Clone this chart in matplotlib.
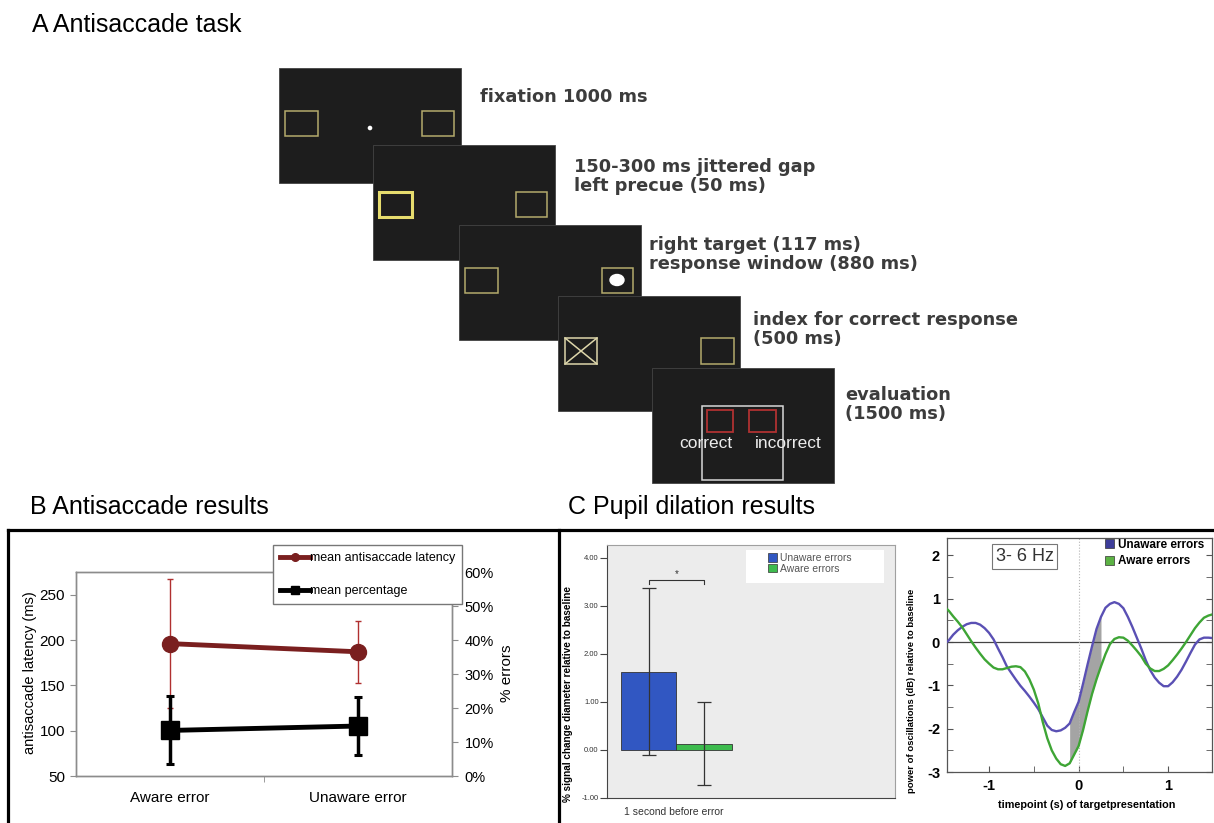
import numpy as np
import matplotlib
matplotlib.use("Agg")
import matplotlib.pyplot as plt
from matplotlib.patches import Rectangle, Ellipse, Circle, Patch
from matplotlib.lines import Line2D

plt.rcParams['font.family'] = ['Liberation Sans', 'DejaVu Sans']
plt.rcParams['axes.unicode_minus'] = False

W, H = 1214, 823

# ---- data ----
# panel A: task steps
step_labels = [
    ["fixation 1000 ms"],
    ["150-300 ms jittered gap", "left precue (50 ms)"],
    ["right target (117 ms)", "response window (880 ms)"],
    ["index for correct response", "(500 ms)"],
    ["evaluation", "(1500 ms)"],
]

# panel B: antisaccade results
conditions_b = ["Aware error", "Unaware error"]
latency_ms = [196, 187]
latency_err = [71, 34]
error_pct = [13.4, 14.7]
error_pct_err = [10.0, 8.5]

# panel C left: pupil dilation 1 s before error
pupil_groups = ["Unaware errors", "Aware errors"]
pupil_change = [1.63, 0.13]
pupil_ci = [1.74, 0.86]

# panel C right: 3-6 Hz power
time_s = np.round(np.linspace(-1.5, 1.5, 61), 2)
unaware_db = [-0.05, 0.04, 0.17, 0.27, 0.35, 0.41, 0.44, 0.44, 0.40, 0.32,
              0.21, 0.06, -0.15, -0.35, -0.57, -0.72, -0.87, -1.01, -1.13, -1.26,
              -1.40, -1.55, -1.74, -1.93, -2.03, -2.06, -2.04, -1.98, -1.88, -1.62,
              -1.38, -0.96, -0.52, -0.10, 0.30, 0.58, 0.79, 0.88, 0.92, 0.88,
              0.78, 0.58, 0.35, 0.10, -0.15, -0.42, -0.65, -0.82, -0.94, -1.02,
              -1.02, -0.93, -0.80, -0.64, -0.45, -0.25, -0.06, 0.06, 0.10, 0.10,
              0.09]
aware_db = [0.82, 0.72, 0.59, 0.47, 0.34, 0.18, 0.02, -0.13, -0.27, -0.40,
            -0.50, -0.59, -0.63, -0.63, -0.60, -0.57, -0.56, -0.58, -0.68, -0.86,
            -1.10, -1.42, -1.85, -2.22, -2.50, -2.69, -2.82, -2.86, -2.80, -2.60,
            -2.40, -2.03, -1.60, -1.20, -0.86, -0.56, -0.28, -0.05, 0.07, 0.11,
            0.10, 0.03, -0.08, -0.20, -0.33, -0.50, -0.61, -0.67, -0.67, -0.62,
            -0.54, -0.42, -0.29, -0.15, 0.00, 0.16, 0.32, 0.45, 0.56, 0.61,
            0.64]
unaware_db = np.array(unaware_db)
aware_db = np.array(aware_db)


def fx(x):
    return x / W


def fy(y):
    return 1 - y / H


fig = plt.figure(figsize=(W / 100, H / 100), dpi=100)

# background axes in pixel coordinates (panel A drawing, titles, frame)
bg = fig.add_axes([0, 0, 1, 1])
bg.set_xlim(0, W)
bg.set_ylim(H, 0)
bg.axis('off')

bg.text(32, 25, "A Antisaccade task", fontsize=18, va='center')
bg.text(30, 507, "B Antisaccade results", fontsize=18, va='center')
bg.text(568, 507, "C Pupil dilation results", fontsize=18, va='center')

# frame around B and C
bg.plot([8, W], [530, 530], color='k', lw=2.3)
bg.plot([8, 8], [530, H], color='k', lw=2.3)
bg.plot([559, 559], [530, H], color='k', lw=2.3)

# panel A screens
screen_pos = [(279, 68), (373, 145), (459, 225), (558, 296), (652, 368)]
label_pos = [(480, 97), (574, 167), (649, 245), (753, 320), (845, 395)]
sw, sh = 182, 115
olive = '#b4ab6c'
for i, (sx, sy) in enumerate(screen_pos):
    z = 2 + 3 * i
    bg.add_patch(Rectangle((sx, sy), sw, sh, facecolor='#1d1d1d',
                           edgecolor='#444444', lw=0.6, zorder=z))
    if i == 0:
        bg.add_patch(Rectangle((sx + 6, sy + 43), 33, 25, fill=False, ec=olive, lw=1.1, zorder=z + 1))
        bg.add_patch(Rectangle((sx + 143, sy + 43), 32, 25, fill=False, ec=olive, lw=1.1, zorder=z + 1))
        bg.add_patch(Circle((sx + 91, sy + 60), 1.6, color='white', zorder=z + 1))
    elif i == 1:
        bg.add_patch(Rectangle((sx + 6, sy + 47), 33, 25, fill=False, ec='#e6dc6e', lw=2.2, zorder=z + 1))
        bg.add_patch(Rectangle((sx + 143, sy + 47), 31, 25, fill=False, ec=olive, lw=1.1, zorder=z + 1))
    elif i == 2:
        bg.add_patch(Rectangle((sx + 6, sy + 43), 33, 25, fill=False, ec=olive, lw=1.1, zorder=z + 1))
        bg.add_patch(Rectangle((sx + 143, sy + 43), 31, 25, fill=False, ec=olive, lw=1.1, zorder=z + 1))
        bg.add_patch(Ellipse((sx + 158, sy + 55), 14, 11, color='white', zorder=z + 1))
    elif i == 3:
        bg.add_patch(Rectangle((sx + 7, sy + 42), 32, 26, fill=False, ec='#ddd6aa', lw=1.1, zorder=z + 1))
        bg.plot([sx + 7, sx + 39], [sy + 42, sy + 68], color='#ddd6aa', lw=1.1, zorder=z + 1)
        bg.plot([sx + 7, sx + 39], [sy + 68, sy + 42], color='#ddd6aa', lw=1.1, zorder=z + 1)
        bg.add_patch(Rectangle((sx + 143, sy + 42), 33, 26, fill=False, ec=olive, lw=1.1, zorder=z + 1))
    else:
        bg.add_patch(Rectangle((sx + 50, sy + 38), 81, 74, fill=False, ec='#d8d8d8', lw=1.1, zorder=z + 1))
        bg.add_patch(Rectangle((sx + 55, sy + 42), 26, 22, fill=False, ec='#b03232', lw=1.3, zorder=z + 1))
        bg.add_patch(Rectangle((sx + 97, sy + 42), 27, 22, fill=False, ec='#b03232', lw=1.3, zorder=z + 1))
        bg.text(sx + 54, sy + 75, "correct", color='#ececec', fontsize=12.5,
                ha='center', va='center', zorder=z + 2)
        bg.text(sx + 136, sy + 75, "incorrect", color='#ececec', fontsize=12.5,
                ha='center', va='center', zorder=z + 2)

for (lx, ly), lines in zip(label_pos, step_labels):
    for j, line in enumerate(lines):
        bg.text(lx, ly + 19 * j, line, fontsize=12.8, fontweight='bold',
                family='DejaVu Sans', color='#3c3c3c', ha='left', va='center')

# ---- panel B ----
maroon = '#7a1f1f'
axB = fig.add_axes([fx(76), fy(776), fx(452) - fx(76), fy(572) - fy(776)])
xb = np.arange(len(conditions_b))
axB.errorbar(xb, latency_ms, yerr=latency_err, color=maroon, lw=3.5, marker='o',
             ms=11.5, ecolor='#b03030', elinewidth=1, capsize=2.5, capthick=1, zorder=3)
axB.set_xlim(-0.5, 1.5)
axB.set_ylim(50, 275)
axB.set_yticks([50, 100, 150, 200, 250])
axB.set_xticks(xb)
axB.set_xticklabels(conditions_b, fontsize=11)
axB.set_xticks([0.5], minor=True)
axB.tick_params(axis='x', which='major', length=0, pad=11)
axB.tick_params(axis='x', which='minor', length=4, direction='out', color='#8c8c8c')
axB.tick_params(axis='y', labelsize=11, length=4, color='#8c8c8c', pad=4)

axB2 = axB.twinx()
axB2.errorbar(xb, error_pct, yerr=error_pct_err, color='k', lw=3.5, marker='s',
              ms=12.5, elinewidth=2.5, capsize=3, capthick=2.2, zorder=3)
axB2.set_ylim(0, 60)
axB2.set_yticks(range(0, 61, 10))
axB2.set_yticklabels([f"{v}%" for v in range(0, 61, 10)])
axB2.tick_params(axis='y', labelsize=10.5, length=4, color='#8c8c8c', pad=5)
for a in (axB, axB2):
    for s in a.spines.values():
        s.set_color('#8c8c8c')
        s.set_linewidth(1)

fig.text(fx(30), fy(673), "antisaccade latency (ms)", rotation=90, fontsize=10.5,
         ha='center', va='center')
fig.text(fx(507), fy(673), "% errors", rotation=90, fontsize=11,
         ha='center', va='center')

hB = [Line2D([], [], color=maroon, lw=3.5, marker='o', ms=5.5),
      Line2D([], [], color='k', lw=3.5, marker='s', ms=6)]
axB2.legend(hB, ["mean antisaccade latency", "mean percentage"], loc='upper left',
            bbox_to_anchor=(fx(273), fy(545)), bbox_transform=fig.transFigure,
            borderaxespad=0, fancybox=False, edgecolor='#777777', framealpha=1,
            fontsize=9, handlelength=2.4, handletextpad=0.0, labelspacing=1.7,
            borderpad=0.55)

# ---- panel C left ----
c_blue = '#3157c2'
c_green = '#3dbb4e'
axC1 = fig.add_axes([fx(607), fy(798), fx(895) - fx(607), fy(545) - fy(798)])
axC1.set_facecolor('#ececec')
xc = np.arange(len(pupil_groups))
axC1.bar(xc, pupil_change, width=1, color=[c_blue, c_green], edgecolor='#333333',
         lw=0.6, zorder=2)
axC1.errorbar(xc, pupil_change, yerr=pupil_ci, fmt='none', ecolor='#333333',
              elinewidth=0.9, capsize=5, capthick=0.9, zorder=3)
axC1.set_xlim(-0.752, 4.437)
axC1.set_ylim(-1, 4.27)
axC1.set_yticks([-1, 0, 1, 2, 3, 4])
axC1.set_yticklabels([f"{v:.2f}" for v in [-1, 0, 1, 2, 3, 4]])
axC1.set_xticks([])
axC1.tick_params(axis='y', labelsize=5.5, length=5, color='#444444', pad=1,
                 labelcolor='#333333')
for s in axC1.spines.values():
    s.set_color('#a0a0a0')
    s.set_linewidth(0.8)
axC1.spines['left'].set_color('#444444')
axC1.spines['bottom'].set_color('#444444')

sig_y = 3.54
axC1.plot([0, 0, 1, 1], [sig_y - 0.08, sig_y, sig_y, sig_y - 0.08], color='#333333', lw=0.8)
axC1.text(0.5, sig_y + 0.12, "*", ha='center', va='center', fontsize=7, color='#333333')

axC1.add_patch(Rectangle((fx(746), fy(583)), fx(884) - fx(746), fy(550) - fy(583),
                         transform=fig.transFigure, facecolor='white', edgecolor='none', zorder=4))
hC1 = [Patch(facecolor=c_blue, edgecolor='#333333', lw=0.5),
       Patch(facecolor=c_green, edgecolor='#333333', lw=0.5)]
legC1 = axC1.legend(hC1, pupil_groups, loc='upper left', bbox_to_anchor=(fx(768), fy(553)),
                    bbox_transform=fig.transFigure, frameon=False, borderaxespad=0,
                    borderpad=0, fontsize=7.5, handlelength=0.9, handleheight=0.9,
                    handletextpad=0.3, labelspacing=0.05)
for t in legC1.get_texts():
    t.set_color('#555555')

fig.text(fx(568), fy(694), "% signal change diameter relative to baseline", rotation=90,
         fontsize=7.2, fontweight='bold', ha='center', va='center')
fig.text(fx(674), fy(812), "1 second before error", fontsize=7.5, color='#333333',
         ha='center', va='center')

# ---- panel C right ----
l_blue = '#5a50b4'
l_green = '#3ea535'
axC2 = fig.add_axes([fx(947), fy(772), fx(1212) - fx(947), fy(538) - fy(772)])
shade = (time_s >= -0.101) & (time_s <= 0.251)
axC2.fill_between(time_s, unaware_db, aware_db, where=shade, color='#a4a4a4', lw=0, zorder=1)
axC2.axhline(0, color='#444444', lw=0.9, zorder=2)
axC2.axvline(0, color='#b4b4b4', lw=0.8, ls=':', zorder=2)
axC2.plot(time_s, unaware_db, color=l_blue, lw=1.7, zorder=3)
axC2.plot(time_s, aware_db, color=l_green, lw=1.7, zorder=3)
axC2.set_xlim(-1.47, 1.49)
axC2.set_ylim(-3, 2.4)
axC2.set_xticks([-1, 0, 1])
axC2.set_xticks([-0.5, 0.5], minor=True)
axC2.set_yticks([-3, -2, -1, 0, 1, 2])
axC2.set_yticks([-2.5, -1.5, -0.5, 0.5, 1.5], minor=True)
axC2.tick_params(which='both', direction='in', length=4, right=True, color='#555555')
axC2.tick_params(axis='both', which='major', labelsize=10.5, pad=5)
for lab in axC2.get_xticklabels() + axC2.get_yticklabels():
    lab.set_fontweight('bold')
for s in axC2.spines.values():
    s.set_color('#555555')
    s.set_linewidth(0.9)

axC2.text(fx(1024.5), fy(556.5), "3- 6 Hz", transform=fig.transFigure, fontsize=13,
          ha='center', va='center', color='#333333',
          bbox=dict(boxstyle='square,pad=0.2', fc='white', ec='#777777', lw=0.8))
hC2 = [Patch(facecolor='#3d3d9a', edgecolor='#333333', lw=0.5),
       Patch(facecolor='#5cb244', edgecolor='#333333', lw=0.5)]
axC2.legend(hC2, pupil_groups, loc='upper left', bbox_to_anchor=(fx(1105), fy(539)),
            bbox_transform=fig.transFigure, frameon=False, borderaxespad=0, borderpad=0,
            prop={'size': 8.5, 'weight': 'bold'}, handlelength=0.8, handleheight=0.8,
            handletextpad=0.3, labelspacing=0.35)

fig.text(fx(912), fy(691), "power of oscillations (dB) relative to baseline", rotation=90,
         fontsize=6.8, fontweight='bold', ha='center', va='center')
fig.text(fx(1087), fy(805), "timepoint (s) of targetpresentation", fontsize=7.8,
         fontweight='bold', ha='center', va='center')

fig.savefig("out.png", dpi=100, facecolor='white')
